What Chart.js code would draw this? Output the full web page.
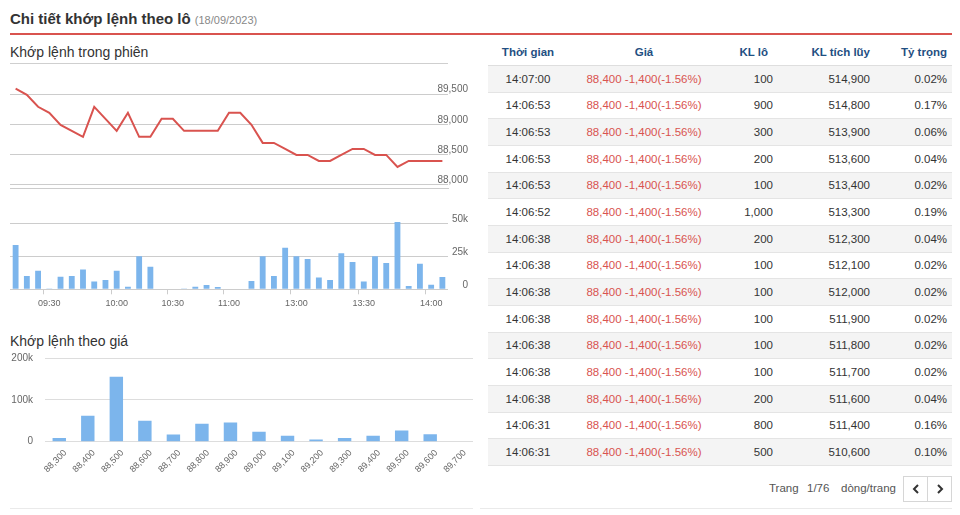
<!DOCTYPE html>
<html>
<head>
<meta charset="utf-8">
<script src="https://cdn.jsdelivr.net/npm/chart.js@4.4.0/dist/chart.umd.min.js"></script>
<style>
  html, body { margin: 0; padding: 0; }
  body { width: 960px; height: 515px; background: #fff; position: relative; overflow: hidden;
         font-family: "Liberation Sans", Arial, sans-serif; }
  .abs { position: absolute; }
  #title { left: 10px; top: 11px; font-size: 15px; line-height: 15px; font-weight: bold; color: #333; white-space: nowrap; }
  #title span { font-size: 11px; font-weight: normal; color: #888; }
  #redline { left: 10px; top: 33px; width: 942px; height: 2px; background: #d9534f; }
  .sub { font-size: 14px; line-height: 14px; color: #333; white-space: nowrap; }
  #sub1 { left: 10px; top: 45px; }
  #sub1line { left: 10px; top: 63px; width: 438px; height: 1px; background: #cfcfcf; }
  #sub2 { left: 10px; top: 334px; }
  #botL { left: 10px; top: 508px; width: 463px; height: 1px; background: #eaeaea; }
  #botR { left: 480px; top: 508px; width: 472px; height: 1px; background: #eaeaea; }
  canvas { position: absolute; left: 0; }
  #c1 { top: 66px; }
  #c2 { top: 196px; }
  #c3 { top: 340px; }
  #tbl { left: 488px; top: 38px; width: 464px; }
  .row { position: relative; height: 25.67px; border-bottom: 1px solid #e4e4e4; font-size: 11.5px; color: #333; }
  .row.hdr { height: 27px; border-bottom: 1px solid #dedede; font-weight: bold; color: #1f4f82; }
  .row.odd { background: #f4f4f4; }
  .row > div { position: absolute; top: 0; height: 100%; display: flex; align-items: center; white-space: nowrap; }
  .c1 { left: 2px; width: 76px; justify-content: center; }
  .c2 { left: 86px; width: 140px; justify-content: center; }
  .c3 { left: 226px; width: 59px; justify-content: flex-end; }
  .c4 { left: 292px; width: 90px; justify-content: flex-end; }
  .c5 { left: 392px; width: 67px; justify-content: flex-end; }
  .row.hdr .c3 { width: 54px; }
  .price { color: #d9534f; }
  #pager { left: 769px; top: 481px; font-size: 11.5px; line-height: 14px; color: #555; white-space: nowrap; }
  #pager span { position: absolute; top: 0; }
  #btns { left: 903px; top: 476px; width: 47px; height: 24px; border: 1px solid #d6d6d6; }
  #btns .div { position: absolute; left: 23px; top: 0; width: 1px; height: 24px; background: #d6d6d6; }
  #btns svg { position: absolute; top: 7px; }
</style>
</head>
<body>
<div id="title" class="abs">Chi tiết khớp lệnh theo lô <span>(18/09/2023)</span></div>
<div id="redline" class="abs"></div>
<div id="sub1" class="abs sub">Khớp lệnh trong phiên</div>
<div id="sub1line" class="abs"></div>
<div id="sub2" class="abs sub">Khớp lệnh theo giá</div>
<div id="botL" class="abs"></div>
<div id="botR" class="abs"></div>

<canvas id="c1" width="480" height="128"></canvas>
<canvas id="c2" width="480" height="118"></canvas>
<canvas id="c3" width="480" height="150"></canvas>

<div id="tbl" class="abs"></div>

<div id="pager" class="abs"><span style="left:0">Trang</span><span style="left:38px">1/76</span><span style="left:72px">dòng/trang</span></div>
<div id="btns" class="abs">
  <svg style="left:8px" width="8" height="10" viewBox="0 0 8 10"><polyline points="6,1 2,5 6,9" fill="none" stroke="#333" stroke-width="2"/></svg>
  <div class="div"></div>
  <svg style="left:32px" width="8" height="10" viewBox="0 0 8 10"><polyline points="2,1 6,5 2,9" fill="none" stroke="#333" stroke-width="2"/></svg>
</div>

<script>
// ---------- DATA ----------
// intraday buckets (category labels for both intraday charts)
const sessionTimes = [
  "09:15","09:20","09:25","09:30","09:35","09:40","09:45","09:50","09:55",
  "10:00","10:06","10:12","10:18","10:24","10:30","10:36","10:42","10:48","10:54",
  "11:00","11:05","11:10","11:15","11:20","11:25",
  "13:00","13:05","13:10","13:15","13:20","13:25",
  "13:30","13:35","13:40","13:45","13:50","13:55",
  "14:00","14:05"
];
const sessionPrice = [
  89600, 89500, 89300, 89200, 89000, 88900, 88800, 89300, 89100, 88900,
  89200, 88800, 88800, 89100, 89100, 88900, 88900, 88900, 88900, 89200,
  89200, 89000, 88700, 88700, 88600, 88500, 88500, 88400, 88400, 88500,
  88600, 88600, 88500, 88500, 88300, 88400, 88400, 88400, 88400
];
const sessionVolume = [
  33500, 10000, 14000, 700, 9500, 10000, 15000, 6000, 7000, 14000,
  2000, 25000, 17000, 0, 0, 600, 2000, 3300, 1700, 0,
  0, 6300, 25000, 10000, 31500, 25000, 23000, 9000, 7000, 27300,
  20700, 6000, 25000, 20000, 51000, 2500, 19400, 3500, 9300
];
const priceTicks = [88000, 88500, 89000, 89500];
const volumeTicks = [0, 25000, 50000];

// volume matched by price level
const priceLevels = ["88,300","88,400","88,500","88,600","88,700","88,800","88,900","89,000","89,100","89,200","89,300","89,400","89,500","89,600","89,700"];
const priceLevelVolume = [9000, 62000, 155000, 50000, 17500, 43000, 46000, 24000, 14000, 5000, 9000, 14000, 26500, 17700, 0];
const priceLevelTicks = [0, 100000, 200000];

// trade table
const headers = ["Thời gian", "Giá", "KL lô", "KL tích lũy", "Tỷ trọng"];
const tradeTimes = ["14:07:00","14:06:53","14:06:53","14:06:53","14:06:53","14:06:52","14:06:38","14:06:38","14:06:38","14:06:38","14:06:38","14:06:38","14:06:38","14:06:31","14:06:31"];
const tradePrices = Array(15).fill("88,400 -1,400(-1.56%)");
const tradeLots = ["100","900","300","200","100","1,000","200","100","100","100","100","100","200","800","500"];
const tradeCumulative = ["514,900","514,800","513,900","513,600","513,400","513,300","512,300","512,100","512,000","511,900","511,800","511,700","511,600","511,400","510,600"];
const tradeShare = ["0.02%","0.17%","0.06%","0.04%","0.02%","0.19%","0.04%","0.02%","0.02%","0.02%","0.02%","0.02%","0.04%","0.16%","0.10%"];

// ---------- TABLE ----------
(function buildTable() {
  const tbl = document.getElementById('tbl');
  const mk = (cls, html) => { const r = document.createElement('div'); r.className = cls; r.innerHTML = html; tbl.appendChild(r); };
  mk('row hdr', headers.map((h, i) => `<div class="c${i+1}">${h}</div>`).join(''));
  tradeTimes.forEach((t, i) => {
    mk('row' + (i % 2 === 0 ? ' odd' : ''),
      `<div class="c1">${t}</div><div class="c2 price">${tradePrices[i]}</div>` +
      `<div class="c3">${tradeLots[i]}</div><div class="c4">${tradeCumulative[i]}</div><div class="c5">${tradeShare[i]}</div>`);
  });
})();

// ---------- CHARTS ----------
Chart.defaults.font.family = '"Liberation Sans", Arial, sans-serif';
Chart.defaults.color = '#666';
Chart.defaults.animation = false;
const BLUE = '#7cb5ec';
const GRID = '#cccccc';
const isMajor = lbl => /:(00|30)$/.test(lbl);

const noLegend = { legend: { display: false }, tooltip: { enabled: false } };
// right axis: fixed 20px box, labels right-aligned at its outer edge and allowed to overlap the plot
const rightAxisFit = s => { s.width = 20; s._computeLabelArea = () => null; };

// Price line
new Chart(document.getElementById('c1'), {
  type: 'line',
  data: { labels: sessionTimes, datasets: [{ data: sessionPrice, borderColor: '#d9534f', borderWidth: 2, pointRadius: 0, tension: 0, fill: false }] },
  options: {
    responsive: false,
    layout: { padding: { left: 10, right: 12, top: 10.7, bottom: 5.3 } },
    plugins: noLegend,
    scales: {
      x: { offset: true, grid: { display: false, drawTicks: false }, ticks: { display: false },
           border: { display: true, color: GRID, width: 1 },
           afterFit: s => { s.height = 0; } },
      y: { position: 'right', min: 87950, max: 89800,
           afterBuildTicks: s => { s.ticks = priceTicks.map(v => ({ value: v })); },
           grid: { color: GRID, drawTicks: false }, border: { display: false },
           ticks: { crossAlign: 'far', padding: 0, labelOffset: -5, font: { size: 10 }, color: '#666',
                    callback: v => v.toLocaleString('en-US') },
           afterFit: rightAxisFit }
    }
  }
});

// Session volume bars
new Chart(document.getElementById('c2'), {
  type: 'bar',
  data: { labels: sessionTimes, datasets: [{ data: sessionVolume, backgroundColor: BLUE, barPercentage: 0.52, categoryPercentage: 1 }] },
  options: {
    responsive: false,
    layout: { padding: { left: 10, right: 12, top: 24.7, bottom: 0 } },
    plugins: noLegend,
    scales: {
      x: { grid: { drawOnChartArea: false, drawTicks: true, tickLength: 5,
                   tickColor: ctx => (ctx.tick && isMajor(sessionTimes[ctx.index])) ? GRID : 'rgba(0,0,0,0)' },
           border: { display: false },
           ticks: { autoSkip: false, maxRotation: 0, minRotation: 0, padding: 4, font: { size: 9 }, color: '#666',
                    callback: (v, i) => isMajor(sessionTimes[i]) ? sessionTimes[i] : '' },
           afterFit: s => { s.height = 24.7; } },
      y: { position: 'right', min: 0, max: 52000,
           afterBuildTicks: s => { s.ticks = volumeTicks.map(v => ({ value: v })); },
           grid: { color: GRID, drawTicks: false }, border: { display: false },
           ticks: { crossAlign: 'far', padding: 0, labelOffset: -4, font: { size: 10 }, color: '#666',
                    callback: v => v === 0 ? '0' : (v / 1000) + 'k' },
           afterFit: rightAxisFit }
    }
  }
});

// Volume by price
new Chart(document.getElementById('c3'), {
  type: 'bar',
  data: { labels: priceLevels, datasets: [{ data: priceLevelVolume, backgroundColor: BLUE, barPercentage: 0.47, categoryPercentage: 1 }] },
  options: {
    responsive: false,
    layout: { padding: { left: 0, right: 7, top: 11, bottom: 0 } },
    plugins: noLegend,
    scales: {
      x: { grid: { display: false, drawTicks: false }, border: { display: false },
           ticks: { autoSkip: false, maxRotation: 45, minRotation: 45, padding: 6, labelOffset: 6, font: { size: 9 }, color: '#666' },
           afterFit: s => { s.height = 48.3; } },
      y: { position: 'left', min: 0, max: 200000,
           afterBuildTicks: s => { s.ticks = priceLevelTicks.map(v => ({ value: v })); },
           grid: { color: '#dddddd', drawTicks: false }, border: { display: false },
           ticks: { padding: 12, font: { size: 10 }, color: '#666',
                    callback: v => v === 0 ? '0' : (v / 1000) + 'k' },
           afterFit: s => { s.width = 45; } }
    }
  }
});
</script>
</body>
</html>
